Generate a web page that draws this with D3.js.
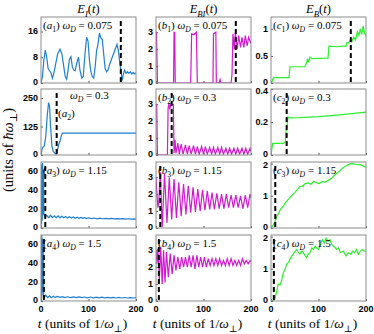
<!DOCTYPE html>
<html lang="en">
<head>
<meta charset="UTF-8">
<title>Energy components</title>
<script src="https://cdn.jsdelivr.net/npm/d3@7/dist/d3.min.js"></script>
<style>
  body { margin: 0; background: #fff; }
  .tick-label { font-family: "Liberation Sans", Arial, sans-serif; font-weight: bold; font-size: 9px; fill: #000; }
  .math { font-family: "Liberation Serif", "DejaVu Serif", serif; fill: #000; }
</style>
</head>
<body>
<svg id="chart" width="374" height="334"></svg>
<script>
// ---- data (t in units of 1/w_perp) ----
// column a : E_I(t)
var tA1 = [0,3,6,9,12,15,18,21,24,27,31,35,40,44,48,51,54,57,60,63,66,69,72,75,79,82,86,89,92,96,99,102,105,108,111,114,117,120,123,126,129,132,135,138,141,145,150,155,160,163,166,169,171,173,176,179,182,185,188,191,194,197,200];
var vA1 = [0,2,7,10.2,8,4.5,3.8,3.2,1.5,3,6,9,10.5,9,5,2,1.2,4,7.5,8.2,5,4,3.8,6,8,4,1.5,2,8,14.2,13,7,3.5,2,1.5,5,10,12,15.5,14,13.5,9,4.5,3.5,4,6,8,10,12,10,6,3,0.8,2.5,4,3,3.5,3,3.5,2.8,3.3,2.8,3.2];
var tA2 = [0,2,4,7,10,13,16,18,20,23,26,29,32,34,37,40,43,45,200];
var vA2 = [0,25,35,40,80,170,230,215,130,40,15,8,2,15,45,60,85,96,96];
var tA3 = [0,0.6,1.2,1.8,2.6,3.4,4.2,5,6,7,9,12,16,20,24,28,32,36,40,44,48,52,56,60,64,68,72,76,80,84,88,92,96,100,106,112,118,124,130,136,142,148,154,160,166,172,178,184,190,196,200];
var vA3 = [0,66,4,68,8,69,14,62,16,13,12,13.5,11,13.5,11,13,11,12.8,10.8,12.5,10.8,12.2,10.5,12,10.5,11.8,10.3,11.5,10.3,11.2,10.2,11,10,10.8,10,10.6,9.8,10.4,9.8,10.3,9.7,10.2,9.6,10,9.6,9.9,9.5,9.8,9.5,9.7,9.5];
var tA4 = [0,0.5,1,1.6,2.3,3,3.8,4.5,5.5,7,10,14,18,22,26,30,35,40,45,50,56,62,68,74,80,86,92,98,104,110,116,122,128,134,140,146,152,158,164,170,176,182,188,194,200];
var vA4 = [0,68,3,70,6,66,10,60,5,4,6,3.5,5.5,3.5,5,3.8,4.8,3.8,4.6,3.6,4.5,3.6,4.4,3.5,4.4,3.5,4.2,3.4,4.2,3.4,4,3.4,4,3.3,3.9,3.3,3.8,3.2,3.8,3.2,3.7,3.2,3.6,3.2,3.5];

// column b : E_BI(t)
var tB1 = [0,1,3,4,37,38,39.5,40.5,73,75,80,85,87,120,121,126,127,133,135,137,158,160,162,165,167,171,174,178,181,185,188,192,195,199,200];
var vB1 = [3,3,0.1,0,0,3,3,0,0,2.9,2.85,3,0,0,2.9,3,0,0,0.2,0,0,0.5,2.9,2,3,2,2.8,2.1,2.7,2.1,2.8,2.2,2.7,2.4,2.5];
var tB2 = [0,1.5,3,24,25.5,27,29,31,35,36.5,38,40,42,46,49,53,57,62,66,70,74,79,83,87,91,96,100,104,108,113,117,121,125,130,134,138,142,147,151,155,159,164,168,172,176,181,185,189,193,198,200];
var vB2 = [3,3,0,0,2.8,3,2.7,3,3,3,0.1,0.9,0.1,0.7,0.05,0.65,0.05,0.6,0.05,0.55,0.05,0.55,0.05,0.5,0.05,0.5,0.05,0.5,0.05,0.45,0.05,0.45,0.05,0.45,0.05,0.45,0.05,0.4,0.05,0.4,0.05,0.4,0.05,0.4,0.05,0.4,0.05,0.4,0.05,0.4,0.2];
var tB3 = [0,2,4,6,9,13,18,23,28,33,38,43,48,53,58,63,68,73,78,83,88,93,98,103,108,113,118,123,128,133,138,143,148,153,158,163,168,173,178,183,188,193,198,200];
var vB3 = [3,2,1.2,1.6,3.3,0.05,3.2,0.3,3,0.5,2.9,0.6,2.7,0.7,2.6,0.8,2.5,0.9,2.4,0.95,2.3,1,2.25,1.05,2.2,1.1,2.1,1.1,2.05,1.15,2,1.15,2,1.2,1.95,1.2,1.95,1.2,1.9,1.15,1.95,1.2,2,1.8];
var tB4 = [0,2,4,7,10,13,16,19,22,26,30,34,38,42,46,50,54,58,62,66,70,74,78,82,86,90,94,98,102,106,110,114,118,122,126,130,134,138,142,146,150,154,158,162,166,170,174,178,182,186,190,194,198,200];
var vB4 = [3,2.2,3.1,1.2,3.2,1.0,3.0,1.1,2.9,1.4,2.8,1.6,2.7,1.8,2.6,1.9,2.6,2.0,2.6,2.0,2.7,2.0,2.7,1.9,2.7,2.0,2.6,2.0,2.6,2.0,2.5,2.1,2.5,2.1,2.5,2.1,2.5,2.1,2.4,2.1,2.5,2.1,2.5,2.1,2.4,2.1,2.4,2.1,2.5,2.2,2.4,2.2,2.4,2.3];

// column c : E_B(t)
var tC1 = [0,2,5,38,40,71,74,77,79,82,86,120,122,140,150,158,160,163,166,170,174,178,182,185,188,191,194,197,200];
var vC1 = [0,0.02,0.1,0.1,0.3,0.3,0.35,0.45,0.38,0.48,0.45,0.46,0.68,0.67,0.68,0.68,0.75,0.74,0.78,0.76,0.85,0.8,0.95,0.88,1.0,0.9,1.05,0.92,0.88];
var tC2 = [0,3.5,26,30,32,36,40,60,80,100,120,150,175,200];
var vC2 = [0,0.07,0.07,0.08,0.15,0.23,0.225,0.226,0.23,0.232,0.237,0.245,0.252,0.26];
var tC3 = [0,4,8,12,16,20,26,30,36,43,50,56,61,66,72,78,84,90,96,102,108,114,120,126,131,137,143,149,155,160,166,172,178,184,190,195,200];
var vC3 = [0,0.08,0.18,0.35,0.45,0.58,0.68,0.78,0.88,1.0,1.1,1.2,1.29,1.3,1.38,1.4,1.36,1.45,1.4,1.38,1.45,1.42,1.48,1.52,1.6,1.68,1.75,1.84,1.9,1.95,1.99,2.0,1.98,1.97,1.96,1.92,1.88];
var tC4 = [0,4,8,12,15,19,22,26,30,33,37,40,44,47,51,54,58,61,65,68,72,75,79,82,86,89,93,96,100,104,108,112,116,120,124,128,132,138,142,146,152,158,163,168,172,176,180,184,188,192,196,200];
var vC4 = [0,0.02,0.05,0.3,0.52,0.5,0.62,0.88,1.0,1.15,1.2,1.3,1.4,1.46,1.55,1.6,1.5,1.46,1.55,1.5,1.4,1.35,1.46,1.5,1.65,1.6,1.7,1.65,1.6,1.75,1.9,1.8,1.95,1.85,1.9,1.75,1.7,1.6,1.65,1.5,1.55,1.4,1.5,1.45,1.55,1.5,1.6,1.45,1.55,1.6,1.55,1.55];

// driving frequencies and the vertical dashed times per row
var omegaD = ["0.075", "0.3", "1.15", "1.5"];
var dashT = [168, 33, 9, 6];
var colTitles = [["E", "I"], ["E", "BI"], ["E", "B"]];
var colLetters = ["a", "b", "c"];
var xTicks = [0, 100, 200];

// y ranges and ticks per panel [row][col]
var yMax = [[20.5, 3.9, 1.22], [290, 3.9, 0.4], [70, 3.9, 2.05], [70, 3.9, 2.05]];
var yTicks = [
  [[0, 8, 16], [0, 1, 2, 3], [0, 0.5, 1]],
  [[0, 125, 250], [0, 1, 2, 3], [0, 0.2, 0.4]],
  [[0, 20, 40, 60], [0, 1, 2, 3], [0, 1, 2]],
  [[0, 20, 40, 60], [0, 1, 2, 3], [0, 1, 2]]
];
var series = [
  [[tA1, vA1], [tB1, vB1], [tC1, vC1]],
  [[tA2, vA2], [tB2, vB2], [tC2, vC2]],
  [[tA3, vA3], [tB3, vB3], [tC3, vC3]],
  [[tA4, vA4], [tB4, vB4], [tC4, vC4]]
];
var colors = ["#1e7fd0", "#d21ad2", "#2cf02c"];

// ---- layout ----
var colX = [41, 156, 271], panelW = 95;
var rowY = [17, 89, 162, 235], panelH = 66;

var svg = d3.select("#chart");

// writes a small math string: parts are [text, style] with style "i" italic, "s" italic subscript, "r" roman subscript
function mathText(sel, x, y, parts, size) {
  var t = sel.append("text").attr("class", "math").attr("x", x).attr("y", y).style("font-size", size + "px");
  var shift = 0;
  parts.forEach(function(p) {
    var sp = t.append("tspan").text(p[0]);
    var want = (p[1] == "s" || p[1] == "r") ? Math.round(size * 0.3) : 0;
    if (want != shift) { sp.attr("dy", want - shift); shift = want; }
    if (p[1] == "i" || p[1] == "s") sp.style("font-style", "italic");
    if (p[1] == "s" || p[1] == "r") sp.style("font-size", (size * 0.7) + "px");
  });
  return t;
}

series.forEach(function(rowSeries, r) {
  rowSeries.forEach(function(s, c) {
    var x0 = colX[c], y0 = rowY[r];
    var x = d3.scaleLinear().domain([0, 200]).range([x0, x0 + panelW]);
    var y = d3.scaleLinear().domain([0, yMax[r][c]]).range([y0 + panelH, y0]);
    var g = svg.append("g");

    g.append("clipPath").attr("id", "clip" + r + c)
      .append("rect").attr("x", x0).attr("y", y0).attr("width", panelW).attr("height", panelH);

    // ticks inside the box, MATLAB style
    var yAxis = d3.axisRight(y).tickValues(yTicks[r][c]).tickSize(2).tickFormat("");
    g.append("g").attr("transform", "translate(" + x0 + ",0)").call(yAxis)
      .call(function(a) { a.select(".domain").remove(); a.selectAll("line").attr("stroke", "#555"); });
    var xAxis = d3.axisTop(x).tickValues(xTicks).tickSize(2).tickFormat("");
    g.append("g").attr("transform", "translate(0," + (y0 + panelH) + ")").call(xAxis)
      .call(function(a) { a.select(".domain").remove(); a.selectAll("line").attr("stroke", "#555"); });

    // tick labels (the bottom "0" sits a touch high, a label at the very top a touch low)
    g.selectAll(".yl").data(yTicks[r][c]).enter().append("text")
      .attr("class", "tick-label")
      .attr("x", x0 - 3)
      .attr("y", function(d) {
        if (d == 0) return y(d) + 2;
        if (y(d) < y0 + 2) return y(d) + 4.5;
        return y(d) + 3;
      })
      .attr("text-anchor", "end")
      .text(function(d) { return d; });
    if (r == 3) {
      g.selectAll(".xl").data(xTicks).enter().append("text")
        .attr("class", "tick-label")
        .attr("x", function(d) { return x(d); }).attr("y", y0 + panelH + 11)
        .attr("text-anchor", "middle")
        .text(function(d) { return d; });
    }

    // curve
    var line = d3.line().x(function(d) { return x(d[0]); }).y(function(d) { return y(d[1]); });
    g.append("path")
      .datum(d3.zip(s[0], s[1]))
      .attr("clip-path", "url(#clip" + r + c + ")")
      .attr("fill", "none").attr("stroke", colors[c]).attr("stroke-width", 1.2)
      .attr("d", line);

    // dashed marker
    g.append("line")
      .attr("x1", x(dashT[r])).attr("x2", x(dashT[r]))
      .attr("y1", y0 + 4).attr("y2", y0 + panelH)
      .attr("stroke", "#000").attr("stroke-width", 2).attr("stroke-dasharray", "5,3");

    // box
    g.append("rect").attr("x", x0).attr("y", y0).attr("width", panelW).attr("height", panelH)
      .attr("fill", "none").attr("stroke", "#8c8c8c").attr("stroke-width", 1);

    // panel label
    var letter = colLetters[c], idx = String(r + 1);
    var om = [["ω", "i"], ["D", "s"], [" = " + omegaD[r], ""]];
    if (r == 1 && c == 0) {
      mathText(g, x0 + 29, y0 + 10, om, 11);
      mathText(g, x0 + 17, y0 + 28, [["(", ""], [letter, "i"], [idx, "r"], [")", ""]], 11);
    } else {
      mathText(g, x0 + 2, y0 + 12, [["(", ""], [letter, "i"], [idx, "r"], [")", ""], [" ", ""]].concat(om), 11);
    }
  });
});

// column titles
colTitles.forEach(function(ti, c) {
  mathText(svg, colX[c] + panelW / 2, 13, [[ti[0], "i"], [ti[1], "s"], ["(", ""], ["t", "i"], [")", ""]], 12.5)
    .attr("text-anchor", "middle");
  // x label
  mathText(svg, colX[c] + panelW / 2 - 6, 328, [["t", "i"], [" (units of 1/", ""], ["ω", "i"], ["⊥", "r"], [")", ""]], 13.5)
    .attr("text-anchor", "middle");
});

// y label
mathText(svg, 0, 0, [["(units of ", ""], ["ħω", "i"], ["⊥", "r"], [")", ""]], 14.5)
  .attr("text-anchor", "middle")
  .attr("transform", "translate(13,150) rotate(-90)");
</script>
</body>
</html>
